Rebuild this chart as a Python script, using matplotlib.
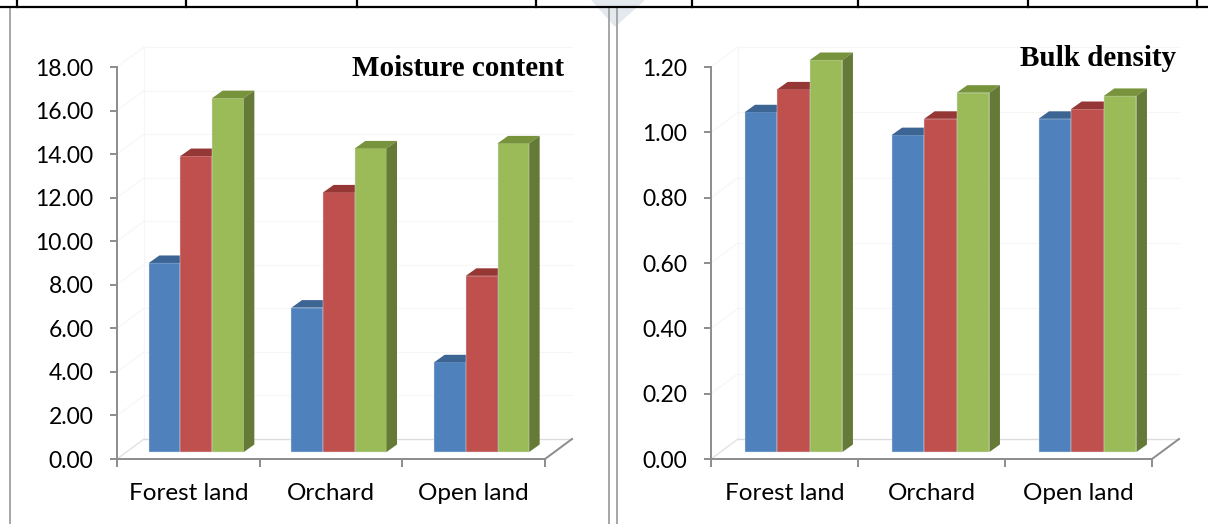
import numpy as np
import matplotlib.pyplot as plt
from matplotlib import transforms
from matplotlib.patches import Polygon

plt.rcParams['font.family'] = ['Lato', 'DejaVu Sans']

# soil properties under three land uses (three series each)
categories = ['Forest land', 'Orchard', 'Open land']
moisture_s1 = [8.68, 6.63, 4.12]
moisture_s2 = [13.59, 11.92, 8.09]
moisture_s3 = [16.25, 13.94, 14.17]
bulk_s1 = [1.04, 0.97, 1.02]
bulk_s2 = [1.11, 1.02, 1.05]
bulk_s3 = [1.20, 1.10, 1.09]

moisture_ticks = np.arange(0, 18.01, 2)
bulk_ticks = np.arange(0, 1.201, 0.2)

face = ['#4F81BD', '#C0504D', '#9BBB59']
top = ['#3D6594', '#943735', '#77933C']
side = ['#375B87', '#8A3634', '#667A38']
axis_gray = '#8C8C8C'

W, H = 1208, 524
fig = plt.figure(figsize=(W / 100, H / 100), dpi=100)

# page background: table rule and frame lines
bg = fig.add_axes([0, 0, 1, 1], zorder=-5)
bg.set_xlim(0, W)
bg.set_ylim(H, 0)
bg.axis('off')
bg.fill([592, 644, 615], [0, 0, 26], color='#E4E9EF', zorder=0)
bg.plot([0, W], [7, 7], color='black', lw=1.6, zorder=2)
for xv in [16.5, 186, 357, 536, 692, 858, 1027.5, 1197]:
    bg.plot([xv, xv], [0, 7], color='black', lw=1.6, zorder=2)
for xv in [9.5, 609.3, 617.3]:
    bg.plot([xv, xv], [8, H], color='#A6A6A6', lw=1.4, zorder=1)


def panel(x_left, x_right, series, ticks, fmt, title, title_x, title_y, shift):
    ymax = ticks[-1]
    y_top, y_bot = 67, 459
    ax = fig.add_axes([x_left / W, 1 - y_bot / H, (x_right - x_left) / W, (y_bot - y_top) / H])
    ax.set_xlim(-0.5, 2.5)
    ax.set_ylim(0, ymax)
    ax.patch.set_alpha(0)

    xs = 3.0 / (x_right - x_left)     # data units per pixel
    ys = ymax / (y_bot - y_top)

    # wall and floor of the 3-D box
    fdx, fdy = 27 * xs, 20 * ys
    faint = '#F6F6F6'
    for t in ticks[1:]:
        ax.plot([-0.5 + fdx, 2.5 + fdx], [t + fdy, t + fdy], color=faint, lw=0.8, clip_on=False, zorder=1)
        ax.plot([-0.5, -0.5 + fdx], [t, t + fdy], color=faint, lw=0.8, clip_on=False, zorder=1)
    ax.plot([-0.5 + fdx, -0.5 + fdx], [fdy, ymax + fdy], color=faint, lw=0.8, clip_on=False, zorder=1)
    ax.plot([-0.5 + fdx, 2.5 + fdx], [fdy, fdy], color='#DCDCDC', lw=1.0, clip_on=False, zorder=1)
    ax.plot([-0.5, -0.5 + fdx], [0, fdy], color='#E2E2E2', lw=1.0, clip_on=False, zorder=1)
    ax.plot([2.5, 2.5 + fdx], [0, fdy], color=axis_gray, lw=1.4, clip_on=False, zorder=1)

    # bars: front faces sit a little back from the axis plane
    off = ax.transData + transforms.ScaledTranslation(shift[0] / 100, shift[1] / 100, fig.dpi_scale_trans)
    bdx, bdy = 10.5 * xs, 7.5 * ys
    w = 0.222
    x = np.arange(len(categories))
    for i, vals in enumerate(series):
        xi = x + (i - 1) * w
        ax.bar(xi, vals, w, color=face[i], edgecolor='#DDE6F0', linewidth=0.3,
               transform=off, clip_on=False, zorder=3 + i)
        for xc, v in zip(xi, vals):
            x0, x1 = xc - w / 2, xc + w / 2
            ax.add_patch(Polygon([(x0, v), (x1, v), (x1 + bdx, v + bdy), (x0 + bdx, v + bdy)],
                                 closed=True, fc=top[i], ec='none', transform=off, clip_on=False, zorder=3 + i))
            ax.add_patch(Polygon([(x1, 0), (x1, v), (x1 + bdx, v + bdy), (x1 + bdx, bdy)],
                                 closed=True, fc=side[i], ec='none', transform=off, clip_on=False, zorder=3 + i))

    for s in ['top', 'right']:
        ax.spines[s].set_visible(False)
    for s in ['left', 'bottom']:
        ax.spines[s].set_color(axis_gray)
        ax.spines[s].set_linewidth(1.4)
    ax.set_yticks(ticks)
    ax.set_yticklabels([fmt.format(t) for t in ticks])
    ax.set_xticks([-0.5, 0.5, 1.5, 2.5], minor=False)
    ax.set_xticklabels([])
    ax.set_xticks(x, minor=True)
    ax.set_xticklabels(categories, minor=True)
    ax.tick_params(axis='y', length=5, width=1.4, color=axis_gray, pad=12, labelsize=16.5)
    ax.tick_params(axis='x', which='major', length=6, width=1.4, color=axis_gray)
    ax.tick_params(axis='x', which='minor', length=0, pad=17, labelsize=17.5)

    fig.text(title_x / W, 1 - title_y / H, title, ha='right', va='center',
             family='Liberation Serif', fontweight='bold', fontsize=21)
    return ax


panel(117, 545, [moisture_s1, moisture_s2, moisture_s3], moisture_ticks, '{:.2f}',
      'Moisture content', 564, 68, (8, 7))
panel(711, 1152, [bulk_s1, bulk_s2, bulk_s3], bulk_ticks, '{:.2f}',
      'Bulk density', 1176, 58, (9, 7))

fig.savefig('out.png', dpi=100)
